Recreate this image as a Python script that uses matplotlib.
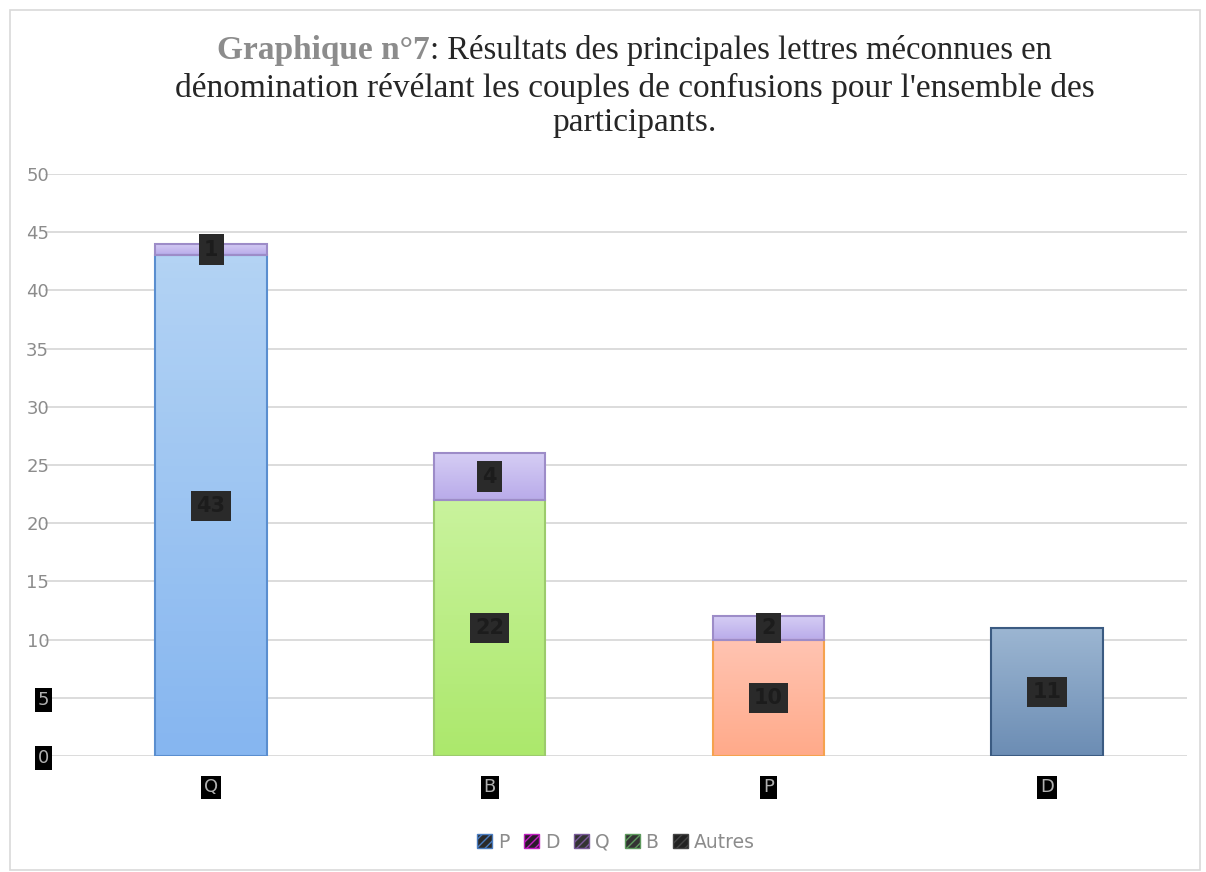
import matplotlib.pyplot as plt
from matplotlib.patches import Patch, Rectangle
import numpy as np

# données
categories = ["Q", "B", "P", "D"]
confusion = [43, 22, 10, 11]   # segment principal de chaque lettre
autres = [1, 4, 2, 0]          # segment "Autres"
legend_labels = ["P", "D", "Q", "B", "Autres"]
yticks = [0, 5, 10, 15, 20, 25, 30, 35, 40, 45, 50]

# couleurs (haut, bas) du dégradé et bordure
bar_colors = [("#b3d3f4", "#86b6f0", "#5a8ecf"),
              ("#c9f39d", "#ace86c", "#9ccb6c"),
              ("#ffc4b2", "#ffaa8a", "#f5a24e"),
              ("#9cb6d2", "#6c8db4", "#3b5b82")]
autres_color = ("#d5cdf4", "#b9abea", "#9d8cc8")

fig = plt.figure(figsize=(12.06, 8.72), dpi=100)
ax = fig.add_axes([45 / 1206, 1 - 756 / 872, 1142 / 1206, (756 - 174) / 872])

# cadre autour du graphique
fig.patches.append(Rectangle((10 / 1206, 2 / 872), 1190 / 1206, 860 / 872,
                             transform=fig.transFigure, fill=False,
                             edgecolor="#d9d9d9", lw=1.2))


def gradient_bar(x, bottom, height, colors):
    top_c, bot_c, edge_c = colors
    rect = ax.bar(x, height, width=0.40, bottom=bottom, color="none",
                  edgecolor=edge_c, linewidth=1.5, zorder=3)[0]
    c1 = np.array(plt.matplotlib.colors.to_rgb(top_c))
    c2 = np.array(plt.matplotlib.colors.to_rgb(bot_c))
    t = np.linspace(0, 1, 64)[:, None]
    img = (c1 * (1 - t) + c2 * t)[:, None, :]
    im = ax.imshow(img, extent=(x - 0.2, x + 0.2, bottom, bottom + height),
                   aspect="auto", origin="upper", zorder=2)
    im.set_clip_path(rect)
    return rect


for i in range(len(categories)):
    gradient_bar(i, 0, confusion[i], bar_colors[i])
    if autres[i] > 0:
        gradient_bar(i, confusion[i], autres[i], autres_color)

# étiquettes de données (boîtes sombres comme dans l'original)
box = dict(boxstyle="square,pad=0.25", facecolor="#2a2a2a", edgecolor="none")
for i in range(len(categories)):
    ax.text(i, confusion[i] / 2, str(confusion[i]), ha="center", va="center",
            fontsize=15, color="#1c1c1c", fontweight="bold", bbox=box, zorder=5)
    if autres[i] > 0:
        ax.text(i, confusion[i] + autres[i] / 2, str(autres[i]), ha="center",
                va="center", fontsize=15, color="#1c1c1c", fontweight="bold",
                bbox=box, zorder=5)

ax.set_xlim(-0.596, 3.502)
ax.set_ylim(0, 50)
ax.set_yticks(yticks)
ax.set_xticks(range(len(categories)))
ax.set_xticklabels(categories)
ax.grid(axis="y", color="#d9d9d9", lw=1.3, zorder=0)
ax.set_axisbelow(True)
for s in ax.spines.values():
    s.set_visible(False)
ax.tick_params(axis="both", length=0, labelsize=13, labelcolor="#8c8c8c")
ax.tick_params(axis="y", pad=-3)
ax.tick_params(axis="x", pad=16)

tick_box = dict(boxstyle="square,pad=0.15", facecolor="black", edgecolor="none")
for lab in ax.get_yticklabels():
    if lab.get_text() in ("0", "5"):
        lab.set_bbox(tick_box)
        lab.set_color("#b0b0b0")
for lab in ax.get_xticklabels():
    lab.set_bbox(tick_box)
    lab.set_color("#b0b0b0")

# titre
fig.text(430 / 1206, 1 - 50 / 872, "Graphique n°7", ha="right", va="center",
         fontsize=24, family="Liberation Serif", fontweight="bold", color="#8c8c8c")
fig.text(430 / 1206, 1 - 50 / 872, ": Résultats des principales lettres méconnues en",
         ha="left", va="center", fontsize=23.5, family="Liberation Serif", color="#262626")
fig.text(635 / 1206, 1 - 88 / 872,
         "dénomination révélant les couples de confusions pour l'ensemble des",
         ha="center", va="center", fontsize=24, family="Liberation Serif", color="#262626")
fig.text(635 / 1206, 1 - 123 / 872, "participants.", ha="center", va="center",
         fontsize=24, family="Liberation Serif", color="#262626")

# légende
leg_styles = [("#2a2a2a", "#4a7cc0"), ("#2a1a2a", "#c020c0"), ("#333333", "#7a5a9a"),
              ("#333333", "#5e9a5e"), ("#222222", "#444444")]
handles = [Patch(facecolor=f, edgecolor=e, hatch="////", label=l)
           for (f, e), l in zip(leg_styles, legend_labels)]
fig.legend(handles=handles, loc="center", bbox_to_anchor=(616 / 1206, 1 - 842 / 872),
           ncol=5, frameon=False, fontsize=13.5, labelcolor="#8c8c8c",
           handlelength=0.8, handleheight=0.8, handletextpad=0.3, columnspacing=0.8)

fig.savefig("out.png", dpi=100)
